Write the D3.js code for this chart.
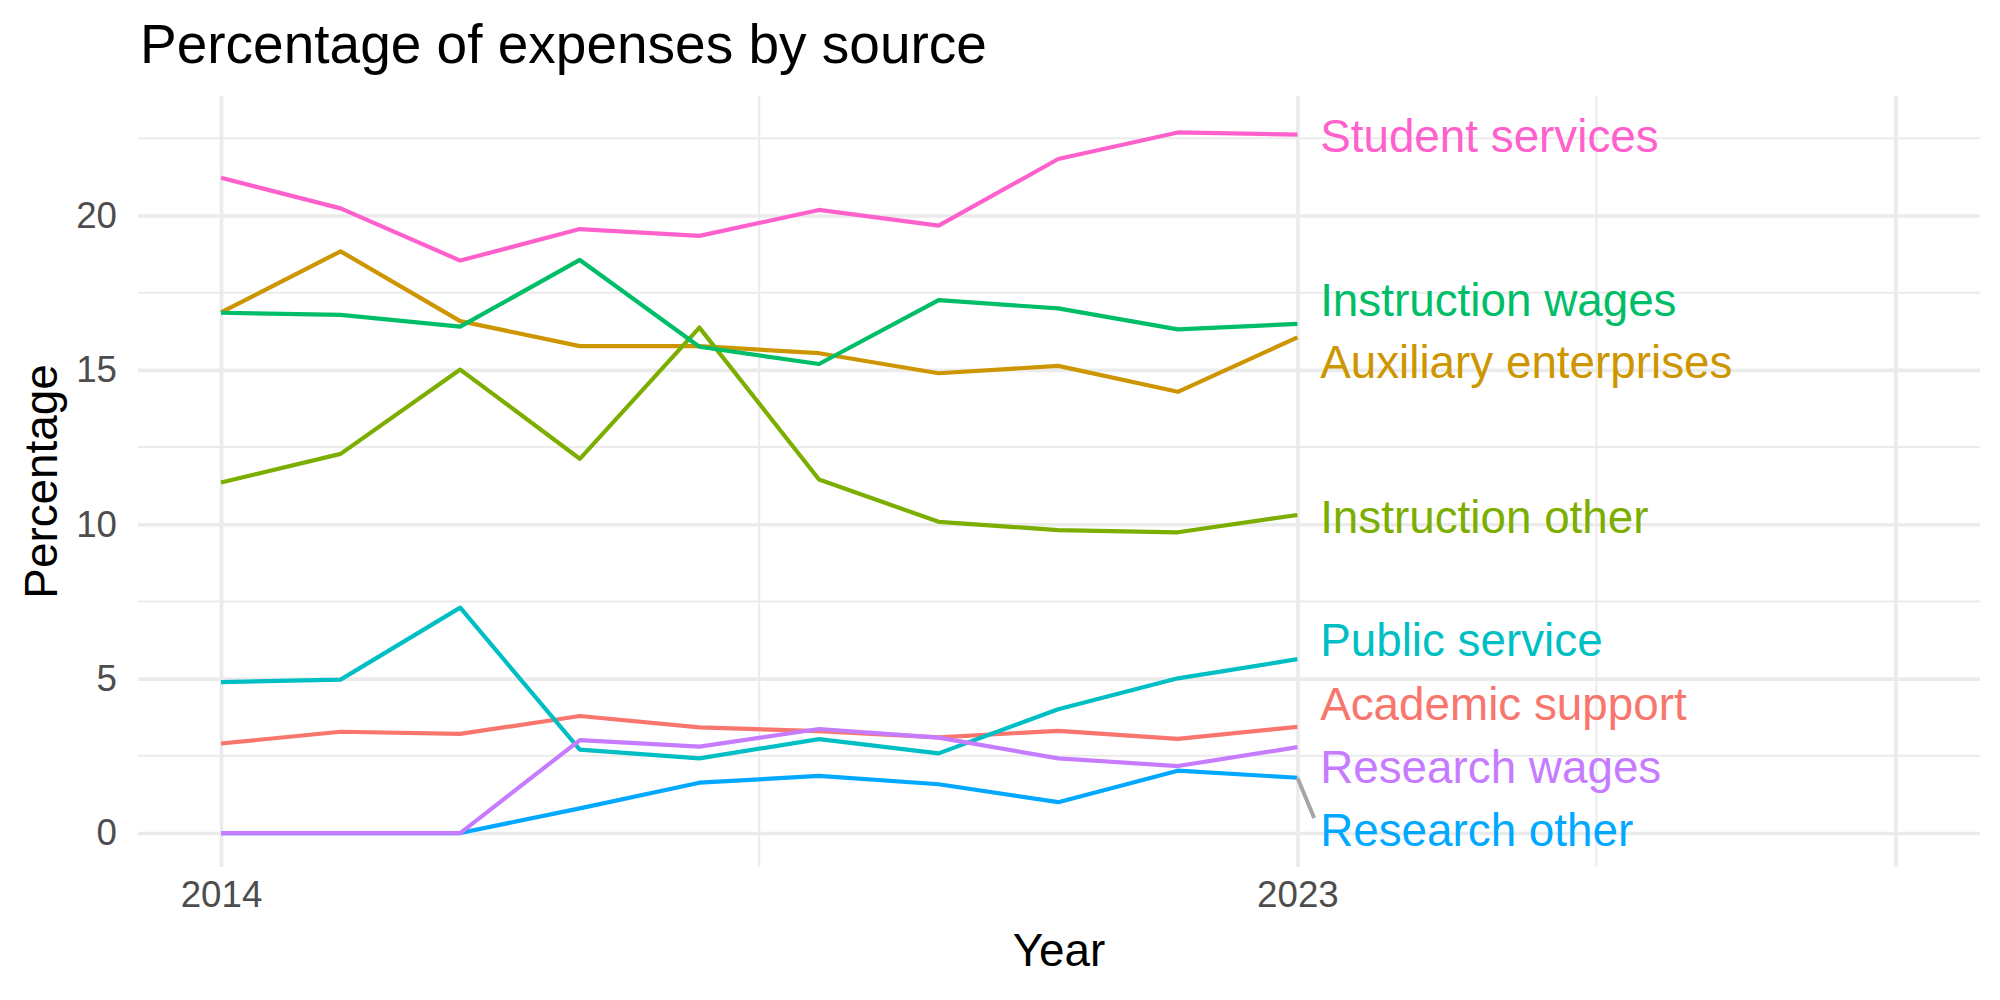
<!DOCTYPE html>
<html>
<head>
<meta charset="utf-8">
<script src="https://cdn.jsdelivr.net/npm/d3@7"></script>
<style>
  body { margin: 0; background: #fff; }
  svg { font-family: "Liberation Sans", Arial, sans-serif; }
</style>
</head>
<body>
<svg width="2000" height="1000"></svg>
<script>
// data
var years = [2014, 2015, 2016, 2017, 2018, 2019, 2020, 2021, 2022, 2023];
var categories = ["Academic support", "Auxiliary enterprises", "Instruction other",
  "Instruction wages", "Public service", "Research other", "Research wages", "Student services"];
var academicSupport = [2.90, 3.28, 3.21, 3.79, 3.42, 3.30, 3.10, 3.31, 3.05, 3.44];
var auxiliaryEnterprises = [16.86, 18.84, 16.58, 15.77, 15.77, 15.54, 14.89, 15.13, 14.29, 16.05];
var instructionOther = [11.35, 12.28, 15.01, 12.12, 16.37, 11.45, 10.08, 9.81, 9.74, 10.30];
var instructionWages = [16.85, 16.78, 16.40, 18.56, 15.75, 15.19, 17.26, 16.99, 16.31, 16.49];
var publicService = [4.89, 4.97, 7.30, 2.70, 2.42, 3.04, 2.58, 4.01, 5.01, 5.63];
var researchOther = [0, 0, 0, 0.80, 1.63, 1.85, 1.58, 1.00, 2.02, 1.79];
var researchWages = [0, 0, 0, 3.01, 2.80, 3.37, 3.09, 2.42, 2.17, 2.78];
var studentServices = [21.22, 20.23, 18.54, 19.56, 19.34, 20.18, 19.67, 21.83, 22.69, 22.62];
// repelled label heights (percentage units)
var labelY = [4.21, 15.26, 10.25, 17.27, 6.28, 0.10, 2.15, 22.60];
var colors = ["#F8766D", "#CD9600", "#7CAE00", "#00BE67", "#00BFC4", "#00A9FF", "#C77CFF", "#FF61CC"];
var xTicks = [2014, 2023, 2028];
var xTickLabels = ["2014", "2023", ""];
var xMinor = [2018.5, 2025.5];
var yTicks = [0, 5, 10, 15, 20];
var yMinor = [2.5, 7.5, 12.5, 17.5, 22.5];

var seriesValues = [academicSupport, auxiliaryEnterprises, instructionOther, instructionWages,
  publicService, researchOther, researchWages, studentServices];
var series = categories.map(function(c, i) {
  return { name: c, color: colors[i], labelY: labelY[i],
    values: years.map(function(y, j) { return { year: y, v: seriesValues[i][j] }; }) };
});

var pLeft = 138, pRight = 1980, pTop = 96, pBottom = 867;
var xs = d3.scaleLinear().domain([2013.306, 2028.707]).range([pLeft, pRight]);
var ys = d3.scaleLinear().domain([-1.10, 23.87]).range([pBottom, pTop]);

var svg = d3.select("svg");

// minor grid
svg.append("g").selectAll("line").data(yMinor).enter().append("line")
  .attr("x1", pLeft).attr("x2", pRight)
  .attr("y1", function(d) { return ys(d); }).attr("y2", function(d) { return ys(d); })
  .attr("stroke", "#EBEBEB").attr("stroke-width", 2);
svg.append("g").selectAll("line").data(xMinor).enter().append("line")
  .attr("y1", pTop).attr("y2", pBottom)
  .attr("x1", function(d) { return xs(d); }).attr("x2", function(d) { return xs(d); })
  .attr("stroke", "#EBEBEB").attr("stroke-width", 2);

// major grid + tick labels through axes
var yAxis = svg.append("g")
  .attr("transform", "translate(" + pLeft + ",0)")
  .call(d3.axisLeft(ys).tickValues(yTicks).tickSize(-(pRight - pLeft)).tickPadding(21));
var xAxis = svg.append("g")
  .attr("transform", "translate(0," + pBottom + ")")
  .call(d3.axisBottom(xs).tickValues(xTicks).tickSize(-(pBottom - pTop)).tickPadding(14)
    .tickFormat(function(d, i) { return xTickLabels[i]; }));
[yAxis, xAxis].forEach(function(a) {
  a.select(".domain").remove();
  a.selectAll(".tick line").attr("stroke", "#EBEBEB").attr("stroke-width", 3.6);
  a.selectAll(".tick text").attr("fill", "#4D4D4D")
    .style("font-size", "36.7px").style("font-family", "Liberation Sans, Arial, sans-serif");
});
xAxis.selectAll(".tick text").attr("dy", "0.71em");

// lines
var line = d3.line()
  .x(function(d) { return xs(d.year); })
  .y(function(d) { return ys(d.v); });

svg.append("g").selectAll("path").data(series).enter().append("path")
  .attr("d", function(d) { return line(d.values); })
  .attr("fill", "none")
  .attr("stroke", function(d) { return d.color; })
  .attr("stroke-width", 4.2)
  .attr("stroke-linejoin", "round");

// connector for the label pushed off its line end
var ro = series[5];
var last = ro.values[ro.values.length - 1];
svg.append("line")
  .attr("x1", xs(last.year)).attr("y1", ys(last.v))
  .attr("x2", xs(2023.14)).attr("y2", ys(0.49))
  .attr("stroke", "#A6A6A6").attr("stroke-width", 4);

// end labels
svg.append("g").selectAll("text").data(series).enter().append("text")
  .attr("x", xs(2023.19))
  .attr("y", function(d) { return ys(d.labelY); })
  .attr("dy", "0.36em")
  .attr("fill", function(d) { return d.color; })
  .style("font-size", "45.8px")
  .text(function(d) { return d.name; });

// titles
svg.append("text").attr("x", 140).attr("y", 63)
  .style("font-size", "55px").attr("fill", "#000")
  .text("Percentage of expenses by source");
svg.append("text").attr("x", (pLeft + pRight) / 2).attr("y", 966)
  .attr("text-anchor", "middle").style("font-size", "45.8px").attr("fill", "#000")
  .text("Year");
svg.append("text")
  .attr("transform", "translate(57," + ((pTop + pBottom) / 2) + ") rotate(-90)")
  .attr("text-anchor", "middle").style("font-size", "45.8px").attr("fill", "#000")
  .text("Percentage");
</script>
</body>
</html>
